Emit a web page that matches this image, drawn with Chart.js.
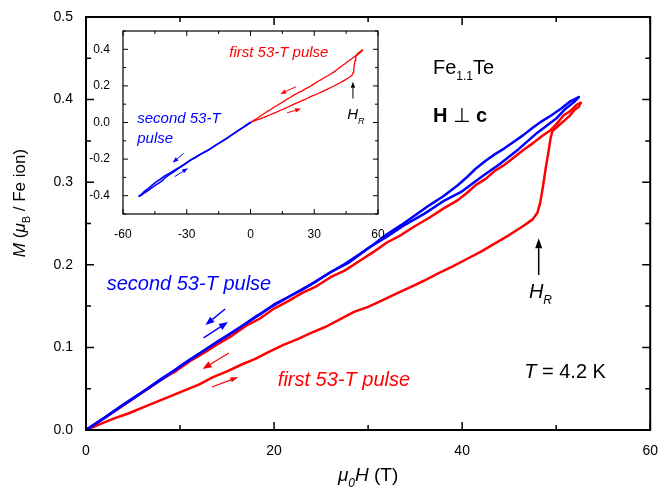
<!DOCTYPE html>
<html>
<head>
<meta charset="utf-8">
<script src="https://cdn.jsdelivr.net/npm/chart.js@4.4.0/dist/chart.umd.min.js"></script>
<style>
	html, body { margin: 0; padding: 0; background: #fff; }
	#wrap { position: relative; width: 663px; height: 489px; }
	#main { position: absolute; left: 0; top: 0; }
	#inset { position: absolute; left: 80px; top: 18px; }
</style>
</head>
<body>
<div id="wrap">
	<canvas id="main" width="663" height="489"></canvas>
	<canvas id="inset" width="312" height="222"></canvas>
</div>
<script>
const FONT = '"Liberation Sans", Arial, "DejaVu Sans", sans-serif';

// first 53-T pulse, field going up (lower branch, jump at H_R)
const redUpH = [0, 1.5, 3, 4.5, 6, 7.5, 9, 10.5, 12, 13.5, 15, 16.5, 18, 19.5, 21, 22.5, 24, 25.5, 27, 28.5, 30, 31.5, 33, 34.5, 36, 37.5, 39, 40.5, 42, 43.5, 45, 46.5, 47.5, 48, 48.3, 48.6, 48.9, 49.2, 49.4, 49.6, 50.2, 50.8, 51.4, 52, 52.4, 52.6];
const redUpM = [0, 0.007, 0.014, 0.020, 0.027, 0.034, 0.041, 0.048, 0.055, 0.064, 0.071, 0.079, 0.086, 0.095, 0.103, 0.110, 0.118, 0.125, 0.134, 0.143, 0.149, 0.157, 0.165, 0.173, 0.181, 0.190, 0.198, 0.207, 0.216, 0.226, 0.236, 0.247, 0.255, 0.263, 0.275, 0.295, 0.318, 0.338, 0.353, 0.362, 0.368, 0.374, 0.380, 0.388, 0.391, 0.396];

// first 53-T pulse, field going down
const redDownH = [52.6, 52.2, 51.5, 50.8, 50, 49.4, 48.5, 47.5, 46.5, 45.5, 44.5, 43.5, 42.5, 41.5, 40.5, 39.5, 38, 36.5, 35, 33.5, 32, 30.5, 29, 27.5, 26, 24.5, 23, 21.5, 20, 18.5, 17, 15.5, 14, 12.5, 11, 9.5, 8, 6.5, 5, 3.5, 2, 0.8, 0];
const redDownM = [0.396, 0.394, 0.386, 0.381, 0.370, 0.363, 0.356, 0.347, 0.339, 0.330, 0.321, 0.314, 0.304, 0.297, 0.287, 0.278, 0.268, 0.257, 0.247, 0.236, 0.227, 0.215, 0.204, 0.193, 0.185, 0.174, 0.166, 0.156, 0.147, 0.135, 0.126, 0.114, 0.104, 0.093, 0.083, 0.071, 0.061, 0.049, 0.038, 0.026, 0.015, 0.006, 0];

// second 53-T pulse, field going up
const blueUpH = [0, 2, 4, 6, 8, 10, 12, 14, 16, 18, 20, 22, 24, 26, 28, 30, 32, 34, 36, 38, 40, 42, 44, 46, 48, 50, 51, 52, 52.4];
const blueUpM = [0, 0.015, 0.031, 0.046, 0.061, 0.077, 0.092, 0.107, 0.121, 0.137, 0.151, 0.164, 0.177, 0.191, 0.203, 0.220, 0.234, 0.249, 0.262, 0.277, 0.289, 0.306, 0.322, 0.340, 0.360, 0.377, 0.389, 0.398, 0.403];

// second 53-T pulse, field going down
const blueDownH = [52.4, 51.5, 50.5, 49.5, 48.5, 47.5, 46.5, 45.5, 44.5, 43.5, 42.5, 41.5, 40.5, 39.5, 38, 36.5, 35, 33.5, 32, 30.5, 29, 27.5, 26, 24.5, 23, 21.5, 20, 18.5, 17, 15.5, 14, 12.5, 11, 9.5, 8, 6.5, 5, 3.5, 2, 0];
const blueDownM = [0.403, 0.398, 0.389, 0.381, 0.374, 0.366, 0.357, 0.349, 0.341, 0.334, 0.326, 0.317, 0.306, 0.296, 0.283, 0.272, 0.260, 0.248, 0.237, 0.224, 0.212, 0.201, 0.191, 0.180, 0.170, 0.161, 0.152, 0.140, 0.129, 0.118, 0.107, 0.096, 0.085, 0.073, 0.062, 0.050, 0.038, 0.027, 0.015, 0];

// tick values
const mainXTicks = [0, 20, 40, 60];
const mainXMinor = [10, 30, 50];
const mainYTicks = [0, 0.1, 0.2, 0.3, 0.4, 0.5];
const mainYMinor = [0.05, 0.15, 0.25, 0.35, 0.45];
const insetXTicks = [-60, -30, 0, 30, 60];
const insetXMinor = [-45, -15, 15, 45];
const insetYTicks = [-0.4, -0.2, 0, 0.2, 0.4];
const insetYMinor = [-0.5, -0.3, -0.1, 0.1, 0.3, 0.5];

const RED = '#ff0000';
const BLUE = '#0000ff';

function pts(hs, ms, sign = 1) {
	return hs.map((h, i) => ({ x: sign * h, y: sign * ms[i] }));
}

function fontFor(r, size) {
	let s = r.sub ? Math.round(size * 0.62) : size;
	return `${r.it ? 'italic ' : ''}${r.b ? 'bold ' : ''}${s}px ${FONT}`;
}

// draw a run of text pieces (italic / bold / subscript)
function drawRuns(ctx, runs, x, y, size, color, align) {
	ctx.textAlign = 'left';
	ctx.textBaseline = 'alphabetic';
	ctx.fillStyle = color;
	let w = 0;
	for (let r of runs) {
		ctx.font = fontFor(r, size);
		w += ctx.measureText(r.t).width;
	}
	let cx = align === 'center' ? x - w / 2 : x;
	for (let r of runs) {
		ctx.font = fontFor(r, size);
		ctx.fillText(r.t, cx, r.sub ? y + size * 0.3 : y);
		cx += ctx.measureText(r.t).width;
	}
}

function drawArrow(ctx, x0, y0, x1, y1, a) {
	let ang = Math.atan2(y1 - y0, x1 - x0);
	let bx = x1 - a.head * Math.cos(ang);
	let by = y1 - a.head * Math.sin(ang);
	ctx.strokeStyle = a.color;
	ctx.fillStyle = a.color;
	ctx.lineWidth = a.width;
	ctx.beginPath();
	ctx.moveTo(x0, y0);
	ctx.lineTo(bx, by);
	ctx.stroke();
	ctx.beginPath();
	ctx.moveTo(x1, y1);
	ctx.lineTo(bx + a.hw * Math.sin(ang), by - a.hw * Math.cos(ang));
	ctx.lineTo(bx - a.hw * Math.sin(ang), by + a.hw * Math.cos(ang));
	ctx.closePath();
	ctx.fill();
}

// frame with inward ticks on all four sides, plus text and arrow notes
const framePlugin = {
	id: 'frameTicks',
	afterDraw(chart, args, o) {
		let { ctx, chartArea: a, scales: { x, y } } = chart;
		ctx.save();
		ctx.strokeStyle = '#000';
		ctx.lineWidth = o.tickWidth;
		let xs = (vals, len) => vals.forEach(v => {
			let p = x.getPixelForValue(v);
			ctx.beginPath();
			ctx.moveTo(p, a.bottom); ctx.lineTo(p, a.bottom - len);
			ctx.moveTo(p, a.top); ctx.lineTo(p, a.top + len);
			ctx.stroke();
		});
		let ys = (vals, len) => vals.forEach(v => {
			let p = y.getPixelForValue(v);
			ctx.beginPath();
			ctx.moveTo(a.left, p); ctx.lineTo(a.left + len, p);
			ctx.moveTo(a.right, p); ctx.lineTo(a.right - len, p);
			ctx.stroke();
		});
		xs(o.xMajor, o.majLen);
		xs(o.xMinor, o.minLen);
		ys(o.yMajor, o.majLen);
		ys(o.yMinor, o.minLen);
		ctx.lineWidth = o.frameWidth;
		ctx.strokeRect(a.left, a.top, a.width, a.height);

		for (let t of o.texts) {
			drawRuns(ctx, t.runs, x.getPixelForValue(t.x), y.getPixelForValue(t.y), t.size, t.color, 'left');
		}
		for (let ar of o.arrows) {
			drawArrow(ctx, x.getPixelForValue(ar.x0), y.getPixelForValue(ar.y0),
				x.getPixelForValue(ar.x1), y.getPixelForValue(ar.y1), ar);
		}
		if (o.titles) {
			drawRuns(ctx, [{ t: 'μ', it: true }, { t: '0', it: true, sub: true }, { t: 'H', it: true }, { t: ' (T)' }],
				(a.left + a.right) / 2, 481, 19, '#000', 'center');
			ctx.translate(25, 203);
			ctx.rotate(-Math.PI / 2);
			drawRuns(ctx, [{ t: 'M', it: true }, { t: ' (' }, { t: 'μ', it: true }, { t: 'B', sub: true }, { t: ' / Fe ion)' }],
				0, 0, 17, '#000', 'center');
		}
		ctx.restore();
	}
};

function line(data, color, width) {
	return {
		data: data,
		showLine: true,
		borderColor: color,
		borderWidth: width,
		pointRadius: 0,
		fill: false,
		tension: 0,
		borderJoinStyle: 'round',
		borderCapStyle: 'round',
	};
}

function axis(min, max, ticks, fontSize, fmt, fit) {
	return {
		type: 'linear',
		min: min,
		max: max,
		grid: { display: false },
		border: { display: false },
		afterBuildTicks: s => { s.ticks = ticks.map(v => ({ value: v })); },
		afterFit: fit,
		ticks: {
			autoSkip: false,
			maxRotation: 0,
			color: '#000',
			padding: 5,
			font: { family: FONT, size: fontSize },
			callback: fmt,
		},
	};
}

// main chart
new Chart(document.getElementById('main'), {
	type: 'scatter',
	data: {
		datasets: [
			line(pts(blueDownH, blueDownM), BLUE, 2.5),
			line(pts(blueUpH, blueUpM), BLUE, 2.5),
			line(pts(redDownH, redDownM), RED, 2.5),
			line(pts(redUpH, redUpM), RED, 2.5),
		]
	},
	plugins: [framePlugin],
	options: {
		responsive: false,
		animation: false,
		events: [],
		layout: { padding: { top: 17, right: 9, left: 0, bottom: 0 } },
		scales: {
			x: axis(0, 60, mainXTicks, 14, v => String(v), s => { s.height = 59; }),
			y: axis(0, 0.5, mainYTicks, 14, v => v.toFixed(1), s => { s.width = 86; }),
		},
		plugins: {
			legend: { display: false },
			tooltip: { enabled: false },
			frameTicks: {
				xMajor: mainXTicks, xMinor: mainXMinor,
				yMajor: mainYTicks, yMinor: mainYMinor,
				majLen: 8, minLen: 5, tickWidth: 1.5, frameWidth: 2,
				titles: true,
				texts: [
					{ x: 36.9, y: 0.431, size: 20, color: '#000', runs: [{ t: 'Fe' }, { t: '1.1', sub: true }, { t: 'Te' }] },
					{ x: 36.9, y: 0.373, size: 20, color: '#000', runs: [{ t: 'H', b: true }, { t: ' ⊥ ' }, { t: 'c', b: true }] },
					{ x: 2.2, y: 0.1695, size: 20, color: BLUE, runs: [{ t: 'second 53-T pulse', it: true }] },
					{ x: 20.4, y: 0.053, size: 20, color: RED, runs: [{ t: 'first 53-T pulse', it: true }] },
					{ x: 46.6, y: 0.063, size: 20, color: '#000', runs: [{ t: 'T', it: true }, { t: ' = 4.2 K' }] },
					{ x: 47.1, y: 0.160, size: 20, color: '#000', runs: [{ t: 'H', it: true }, { t: 'R', it: true, sub: true }] },
				],
				arrows: [
					{ x0: 14.8, y0: 0.1465, x1: 12.7, y1: 0.127, color: BLUE, width: 1.5, head: 9, hw: 3.5 },
					{ x0: 12.5, y0: 0.1114, x1: 15.1, y1: 0.1307, color: BLUE, width: 1.5, head: 9, hw: 3.5 },
					{ x0: 15.2, y0: 0.0932, x1: 12.4, y1: 0.0738, color: RED, width: 1.2, head: 9, hw: 3.5 },
					{ x0: 13.4, y0: 0.052, x1: 16.2, y1: 0.0642, color: RED, width: 1.2, head: 8, hw: 2.5 },
					{ x0: 48.14, y0: 0.1877, x1: 48.14, y1: 0.232, color: '#000', width: 1.5, head: 10, hw: 3.5 },
				],
			},
		},
	}
});

// inset: both pulses, second pulse at negative field
new Chart(document.getElementById('inset'), {
	type: 'scatter',
	data: {
		datasets: [
			line(pts(blueDownH, blueDownM, -1), BLUE, 1.6),
			line(pts(blueUpH, blueUpM, -1), BLUE, 1.6),
			line(pts(redDownH, redDownM), RED, 1.3),
			line(pts(redUpH, redUpM), RED, 1.3),
		]
	},
	plugins: [framePlugin],
	options: {
		responsive: false,
		animation: false,
		events: [],
		layout: { padding: { top: 13, right: 14, left: 0, bottom: 0 } },
		scales: {
			x: axis(-60, 60, insetXTicks, 12, v => String(v), s => { s.height = 26; }),
			y: axis(-0.5, 0.5, insetYTicks, 12, v => v.toFixed(1), s => { s.width = 43; }),
		},
		plugins: {
			legend: { display: false },
			tooltip: { enabled: false },
			frameTicks: {
				xMajor: insetXTicks, xMinor: insetXMinor,
				yMajor: insetYTicks, yMinor: insetYMinor,
				majLen: 5, minLen: 3, tickWidth: 1, frameWidth: 1.2,
				titles: false,
				texts: [
					{ x: -10, y: 0.358, size: 15, color: RED, runs: [{ t: 'first 53-T pulse', it: true }] },
					{ x: -53.3, y: -0.005, size: 15, color: BLUE, runs: [{ t: 'second 53-T', it: true }] },
					{ x: -53.3, y: -0.113, size: 15, color: BLUE, runs: [{ t: 'pulse', it: true }] },
					{ x: 45.5, y: 0.017, size: 15, color: '#000', runs: [{ t: 'H', it: true }, { t: 'R', it: true, sub: true }] },
				],
				arrows: [
					{ x0: 21.5, y0: 0.196, x1: 14.0, y1: 0.156, color: RED, width: 1, head: 6, hw: 2.2 },
					{ x0: 17.2, y0: 0.053, x1: 23.8, y1: 0.075, color: RED, width: 1, head: 6, hw: 2.2 },
					{ x0: -31.5, y0: -0.169, x1: -36.7, y1: -0.22, color: BLUE, width: 1, head: 6, hw: 2.2 },
					{ x0: -35.7, y0: -0.296, x1: -29.4, y1: -0.25, color: BLUE, width: 1, head: 6, hw: 2.2 },
					{ x0: 48.2, y0: 0.131, x1: 48.2, y1: 0.222, color: '#000', width: 1, head: 6, hw: 2.2 },
				],
			},
		},
	}
});
</script>
</body>
</html>
